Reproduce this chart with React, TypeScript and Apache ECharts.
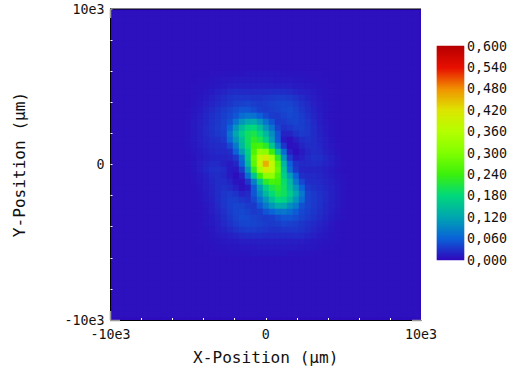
import React, { useEffect, useRef } from "react";
import * as echarts from "echarts";

const GRID_SIZE = 51;
const COL_START = 11;
const ROW_START = 10;
const BACKGROUND = 5;
const COLORBAR_MAX = 0.6;
const COLORBAR_STEPS = 214;
const COLORBAR_COLORS = ["#3008bc", "#0a62d8", "#00a6b0", "#00d87c", "#3cf00c", "#80ff00", "#b4ff00", "#dce600", "#f09400", "#e81000", "#b80000"];

// Intensity in thousandths (central window; the rest is BACKGROUND).
const rows: number[][] = [
  [5,5,6,6,6,7,7,8,8,8,8,9,9,9,9,9,9,8,8,8,8,7,7,7,6,6,6,5,5],
  [5,6,6,7,7,8,9,10,10,11,11,11,11,11,11,11,10,10,10,9,9,8,8,7,7,6,6,5,5],
  [5,6,7,8,8,9,10,12,13,14,14,14,14,14,14,14,14,14,13,12,11,10,9,8,7,7,6,6,5],
  [5,6,7,8,10,12,15,18,21,23,22,22,21,21,22,23,24,23,21,18,15,13,11,9,8,7,6,5,5],
  [5,6,7,9,12,15,19,24,28,30,30,29,28,28,29,32,34,34,32,28,22,17,13,10,8,7,6,5,5],
  [5,6,8,10,14,18,22,26,31,35,37,39,35,33,34,37,39,41,39,34,28,21,15,11,9,7,6,5,5],
  [5,7,9,12,17,22,28,33,38,45,50,50,44,36,33,35,38,42,43,38,31,24,17,12,9,7,6,5,5],
  [6,7,10,14,19,25,31,36,42,52,68,76,72,58,44,34,33,38,42,40,34,26,19,13,9,7,6,5,5],
  [6,8,11,15,20,27,32,38,48,75,105,125,128,106,76,50,32,33,38,40,36,29,21,14,10,7,6,5,5],
  [6,8,11,16,21,28,33,38,60,105,145,175,180,150,105,75,38,27,30,35,36,31,23,16,11,8,6,5,5],
  [6,8,11,16,21,27,32,36,75,120,165,196,207,182,142,100,52,18,18,28,33,30,24,17,12,8,6,5,5],
  [6,8,11,15,20,24,27,32,65,105,150,196,225,207,168,112,54,12,6,15,24,27,24,18,13,9,6,5,5],
  [6,8,10,14,18,21,23,25,42,80,140,190,243,250,225,160,85,30,5,8,18,24,24,19,14,10,7,5,5],
  [5,7,9,12,16,19,21,22,25,60,112,170,255,320,313,240,153,70,15,4,12,20,24,21,16,11,8,6,5],
  [5,6,8,11,14,17,18,18,20,32,70,160,277,375,408,343,225,105,34,12,15,22,26,25,19,14,9,6,5],
  [5,7,9,13,18,22,22,16,12,20,58,140,265,385,460,385,265,140,58,28,22,22,23,22,18,13,9,7,5],
  [5,6,9,14,19,25,26,22,12,10,34,105,225,343,408,375,277,160,70,32,20,18,18,17,14,11,8,6,5],
  [5,6,8,11,16,21,24,20,12,4,15,70,153,240,313,320,255,170,112,60,25,22,21,19,16,12,9,7,5],
  [5,5,7,10,14,19,24,24,18,8,5,30,85,160,225,250,243,190,140,80,42,25,23,21,18,14,10,8,6],
  [5,5,6,9,13,18,24,27,24,15,6,12,54,112,168,207,225,196,150,105,62,32,27,24,20,15,11,8,6],
  [5,5,6,8,12,17,24,30,33,28,18,22,52,95,142,182,207,196,165,125,80,38,32,27,21,16,11,8,6],
  [5,5,6,8,11,16,23,31,36,35,30,27,42,72,105,150,180,175,145,105,70,38,33,28,21,16,11,8,6],
  [5,5,6,7,10,14,21,29,36,40,38,33,32,52,80,106,128,125,100,82,48,38,32,27,20,15,11,8,6],
  [5,5,6,7,9,13,19,26,34,40,42,38,33,36,50,62,74,78,70,56,42,36,31,25,19,14,10,7,6],
  [5,5,6,7,9,12,17,24,31,38,43,42,38,35,33,36,44,50,50,45,38,33,28,22,17,12,9,7,5],
  [5,5,6,7,9,11,15,21,28,34,39,41,39,37,34,33,35,39,37,35,31,26,22,18,14,10,8,6,5],
  [5,5,6,7,8,10,13,17,22,28,32,34,34,32,29,28,28,29,30,30,28,24,19,15,12,9,7,6,5],
  [5,5,6,7,8,9,11,13,15,18,21,23,24,23,22,21,21,22,22,23,21,18,15,12,10,8,7,6,5],
  [5,6,6,7,7,8,9,10,11,12,13,14,14,14,14,14,14,14,14,14,13,12,10,9,8,8,7,6,5],
  [5,5,6,6,7,7,8,8,9,9,10,10,10,11,11,11,11,11,11,11,10,10,9,8,7,7,6,6,5],
  [5,5,6,6,6,7,7,7,8,8,8,8,9,9,9,9,9,9,8,8,8,8,7,7,6,6,6,5,5],
];

const categories = Array.from({ length: GRID_SIZE }, (_, i) => String(i));
const FONT = "'DejaVu Sans Mono', monospace";
const cells: [number, number, number][] = [];
for (let j = 0; j < GRID_SIZE; j++) {
  for (let i = 0; i < GRID_SIZE; i++) {
    const row = rows[j - ROW_START];
    const value = row && row[i - COL_START] !== undefined ? row[i - COL_START] : BACKGROUND;
    cells.push([i, j, value / 1000]);
  }
}
const rampCategories = Array.from({ length: COLORBAR_STEPS }, (_, k) => String(k));
const rampCells = rampCategories.map((_, k) => [0, k, (k / (COLORBAR_STEPS - 1)) * COLORBAR_MAX]);

const positionLabel = (v: number) => (v === 0 ? "0" : v % 10000 === 0 ? `${v / 1000}e3` : "");

export default function App() {
  const ref = useRef<HTMLDivElement>(null);
  useEffect(() => {
    const chart = echarts.init(ref.current!, undefined, { renderer: "svg" });
    const valueAxisBase = {
      type: "value" as const,
      min: -10000,
      max: 10000,
      interval: 2000,
      z: 5,
      gridIndex: 0,
      splitLine: { show: false },
      axisLine: { show: true, onZero: false, lineStyle: { color: "#000", width: 1 } },
      axisTick: { show: true, inside: true, length: 2, lineStyle: { color: "#fff", width: 1 } },
      axisLabel: { color: "#111", fontFamily: FONT, fontSize: 13.3, margin: 8, formatter: positionLabel },
      nameLocation: "middle" as const,
      nameTextStyle: { color: "#111", fontFamily: FONT, fontSize: 16.1 },
    };
    chart.setOption({
      animation: false,
      backgroundColor: "#fff",
      grid: [
        { left: 110.5, top: 9, width: 310.5, height: 311, show: true, backgroundColor: "#2e0cbd", borderWidth: 0 },
        { left: 113, top: 11, width: 306, height: 306 },
        { left: 437, top: 46, width: 27, height: 214 },
      ],
      xAxis: [
        { ...valueAxisBase, position: "bottom", name: "X-Position (µm)", nameGap: 29 },
        { type: "category", data: categories, show: false, gridIndex: 1 },
        { type: "category", data: ["bar"], show: false, gridIndex: 2 },
      ],
      yAxis: [
        { ...valueAxisBase, position: "left", name: "Y-Position (µm)", nameGap: 83, axisLabel: { ...valueAxisBase.axisLabel, margin: 6 } },
        { type: "category", data: categories, show: false, inverse: true, gridIndex: 1 },
        { type: "category", data: rampCategories, show: false, gridIndex: 2 },
        {
          type: "value", gridIndex: 2, position: "right", min: 0, max: COLORBAR_MAX, interval: 0.06,
          axisLine: { show: false }, axisTick: { show: false }, splitLine: { show: false },
          axisLabel: { color: "#111", fontFamily: FONT, fontSize: 13.3, margin: 3, formatter: (v: number) => v.toFixed(3).replace(".", ",") },
        },
      ],
      visualMap: {
        type: "continuous", show: false, min: 0, max: COLORBAR_MAX, dimension: 2, seriesIndex: [0, 1],
        inRange: { color: COLORBAR_COLORS },
      },
      series: [
        { type: "heatmap", xAxisIndex: 1, yAxisIndex: 1, data: cells, itemStyle: { borderWidth: 0 }, emphasis: { disabled: true } },
        { type: "heatmap", xAxisIndex: 2, yAxisIndex: 2, data: rampCells, itemStyle: { borderWidth: 0 }, emphasis: { disabled: true } },
      ],
      graphic: [
        { type: "line", z: 10, shape: { x1: 110, y1: 9, x2: 421, y2: 9 }, style: { stroke: "#000", lineWidth: 1 } },
        { type: "line", z: 10, shape: { x1: 110.5, y1: 320, x2: 110.5, y2: 311 }, style: { stroke: "#999", lineWidth: 1.5 } },
        { type: "line", z: 10, shape: { x1: 110, y1: 320.5, x2: 120, y2: 320.5 }, style: { stroke: "#999", lineWidth: 1.5 } },
        { type: "line", z: 10, shape: { x1: 110.5, y1: 9, x2: 110.5, y2: 18 }, style: { stroke: "#999", lineWidth: 1.5 } },
        { type: "line", z: 10, shape: { x1: 412, y1: 320.5, x2: 421, y2: 320.5 }, style: { stroke: "#999", lineWidth: 1.5 } },
      ],
    });
    return () => chart.dispose();
  }, []);
  return <div ref={ref} style={{ position: "absolute", left: 0, top: 0, width: 510, height: 370 }} />;
}
